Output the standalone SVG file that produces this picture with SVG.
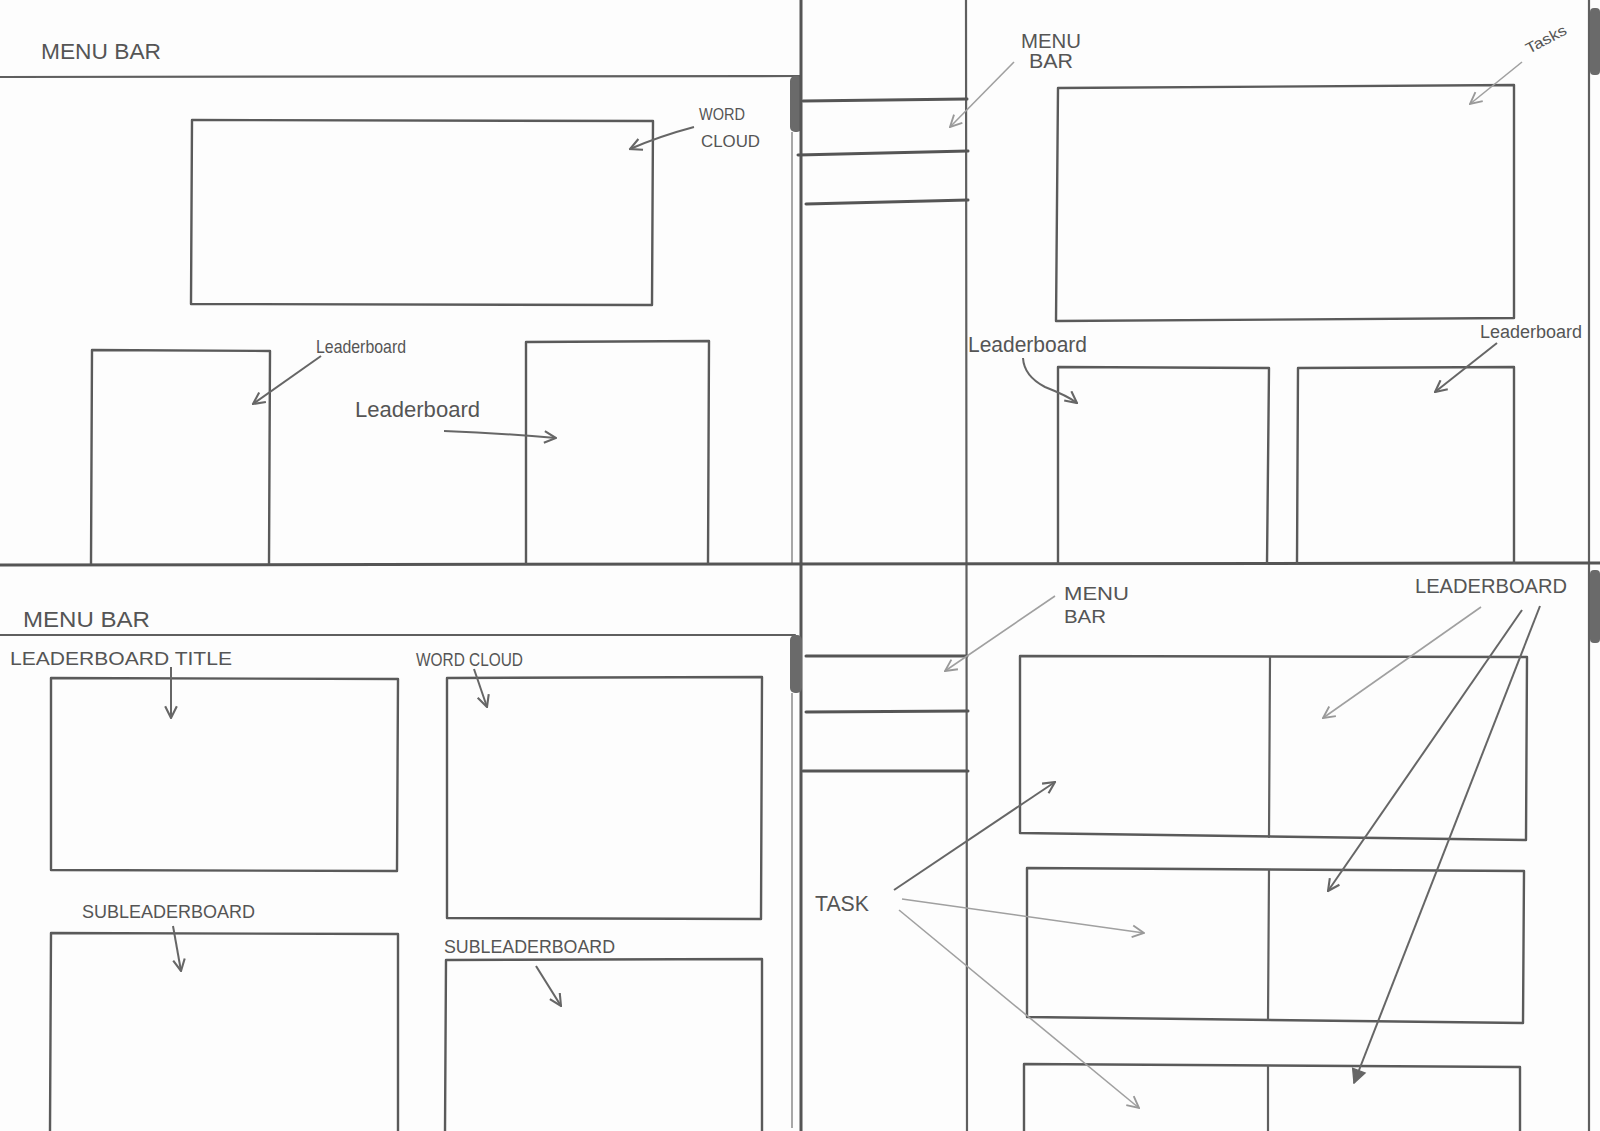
<svg xmlns="http://www.w3.org/2000/svg" width="1600" height="1131" viewBox="0 0 1600 1131">
<defs>
<style>
.ln{stroke:#5f5f5f;stroke-width:2.2;fill:none;stroke-linecap:round}
.thk{stroke:#555;stroke-width:3;fill:none;stroke-linecap:round}
.thin{stroke:#8a8a8a;stroke-width:1.5;fill:none}
.box{stroke:#5a5a5a;stroke-width:2.4;fill:none;stroke-linejoin:round}
.thumb{fill:#6a6a6a}
.t{font-family:"Liberation Sans","DejaVu Sans",sans-serif;fill:#555}
.arr{stroke:#666;stroke-width:2;fill:none;marker-end:url(#ah)}
.arrl{stroke:#a0a0a0;stroke-width:1.6;fill:none;marker-end:url(#ahl)}
.arrf{stroke:#666;stroke-width:2;fill:none;marker-end:url(#ahf)}
</style>
<marker id="ah" viewBox="0 0 12 12" refX="11" refY="6" markerWidth="14" markerHeight="14" markerUnits="userSpaceOnUse" orient="auto">
<path d="M1,1 L11,6 L1,11" fill="none" stroke="#666" stroke-width="1.8"/>
</marker>
<marker id="ahl" viewBox="0 0 12 12" refX="11" refY="6" markerWidth="14" markerHeight="14" markerUnits="userSpaceOnUse" orient="auto">
<path d="M1,1 L11,6 L1,11" fill="none" stroke="#999" stroke-width="1.6"/>
</marker>
<marker id="ahf" viewBox="0 0 12 12" refX="11" refY="6" markerWidth="16" markerHeight="16" markerUnits="userSpaceOnUse" orient="auto">
<path d="M1,1 L11,6 L1,11 Z" fill="#666" stroke="#666" stroke-width="1"/>
</marker>
</defs>
<rect x="0" y="0" width="1600" height="1131" fill="#fdfdfd"/>

<g id="frame">
<line class="ln" x1="0" y1="77" x2="800" y2="76"/>
<line class="thin" x1="792" y1="132" x2="792" y2="563"/>
<rect class="thumb" x="790" y="76" width="12" height="56" rx="5"/>
<line class="thk" x1="801" y1="0" x2="801" y2="1131"/>
<line class="ln" x1="966" y1="0" x2="967" y2="1131"/>
<line class="ln" x1="1589" y1="0" x2="1589" y2="1131"/>
<rect class="thumb" x="1590" y="8" width="10" height="67" rx="4"/>
<rect class="thumb" x="1590" y="570" width="10" height="73" rx="4"/>
<line class="thk" x1="0" y1="565" x2="1600" y2="563"/>
<line class="ln" x1="0" y1="635" x2="795" y2="635"/>
<line class="thin" x1="792" y1="693" x2="792" y2="1128"/>
<rect class="thumb" x="790" y="635" width="12" height="58" rx="5"/>
<line class="thk" x1="803" y1="101" x2="967" y2="99"/>
<line class="thk" x1="798" y1="155" x2="968" y2="151"/>
<line class="thk" x1="806" y1="204" x2="968" y2="200"/>
<line class="thk" x1="806" y1="656" x2="967" y2="656"/>
<line class="thk" x1="806" y1="712" x2="968" y2="711"/>
<line class="thk" x1="803" y1="771" x2="968" y2="771"/>
</g>

<g id="tl-wordcloud"><polygon class="box" points="192,120 653,121 652,305 191,304"/></g>
<g id="tl-leaderboard-left"><polyline class="box" points="91,564 92,350 270,351 269,564"/></g>
<g id="tl-leaderboard-right"><polyline class="box" points="526,564 526,342 709,341 708,564"/></g>

<g id="tr-tasks"><polygon class="box" points="1058,88 1514,85 1514,318 1056,321"/></g>
<g id="tr-leaderboard-left"><polyline class="box" points="1058,564 1058,367 1269,368 1267,564"/></g>
<g id="tr-leaderboard-right"><polyline class="box" points="1297,564 1298,368 1514,367 1514,564"/></g>

<g id="bl-title"><polygon class="box" points="51,678 398,679 397,871 51,870"/></g>
<g id="bl-wordcloud"><polygon class="box" points="447,678 762,677 761,919 447,918"/></g>
<g id="bl-sub-left"><polyline class="box" points="50,1131 51,933 398,934 398,1131"/></g>
<g id="bl-sub-right"><polyline class="box" points="445,1131 446,960 762,959 762,1131"/></g>

<g id="br-row1"><polygon class="box" points="1020,656 1527,657 1526,840 1020,833"/><line class="ln" x1="1270" y1="657" x2="1269" y2="837"/></g>
<g id="br-row2"><polygon class="box" points="1027,868 1524,871 1523,1023 1027,1017"/><line class="ln" x1="1269" y1="870" x2="1268" y2="1020"/></g>
<g id="br-row3"><polyline class="box" points="1024,1131 1024,1064 1520,1067 1520,1131"/><line class="ln" x1="1268" y1="1066" x2="1268" y2="1131"/></g>

<g id="labels">
<text class="t" x="41" y="59" font-size="22" textLength="120" lengthAdjust="spacingAndGlyphs">MENU BAR</text>
<text class="t" x="699" y="120" font-size="17" textLength="46" lengthAdjust="spacingAndGlyphs">WORD</text>
<text class="t" x="701" y="147" font-size="17" textLength="59" lengthAdjust="spacingAndGlyphs">CLOUD</text>
<text class="t" x="316" y="353" font-size="19" textLength="90" lengthAdjust="spacingAndGlyphs">Leaderboard</text>
<text class="t" x="355" y="417" font-size="22" textLength="125" lengthAdjust="spacingAndGlyphs">Leaderboard</text>
<text class="t" x="1021" y="48" font-size="20" textLength="60" lengthAdjust="spacingAndGlyphs">MENU</text>
<text class="t" x="1029" y="68" font-size="20" textLength="44" lengthAdjust="spacingAndGlyphs">BAR</text>
<text class="t" x="1529" y="54" font-size="15" textLength="44" lengthAdjust="spacingAndGlyphs" transform="rotate(-28 1529 54)">Tasks</text>
<text class="t" x="968" y="352" font-size="22" textLength="119" lengthAdjust="spacingAndGlyphs">Leaderboard</text>
<text class="t" x="1480" y="338" font-size="18" textLength="102" lengthAdjust="spacingAndGlyphs">Leaderboard</text>
<text class="t" x="23" y="627" font-size="22" textLength="127" lengthAdjust="spacingAndGlyphs">MENU BAR</text>
<text class="t" x="10" y="665" font-size="19" textLength="222" lengthAdjust="spacingAndGlyphs">LEADERBOARD TITLE</text>
<text class="t" x="416" y="666" font-size="18" textLength="107" lengthAdjust="spacingAndGlyphs">WORD CLOUD</text>
<text class="t" x="82" y="918" font-size="18" textLength="173" lengthAdjust="spacingAndGlyphs">SUBLEADERBOARD</text>
<text class="t" x="444" y="953" font-size="18" textLength="171" lengthAdjust="spacingAndGlyphs">SUBLEADERBOARD</text>
<text class="t" x="1064" y="600" font-size="19" textLength="65" lengthAdjust="spacingAndGlyphs">MENU</text>
<text class="t" x="1064" y="623" font-size="19" textLength="42" lengthAdjust="spacingAndGlyphs">BAR</text>
<text class="t" x="1415" y="593" font-size="20" textLength="152" lengthAdjust="spacingAndGlyphs">LEADERBOARD</text>
<text class="t" x="815" y="911" font-size="22" textLength="54" lengthAdjust="spacingAndGlyphs">TASK</text>
</g>

<g id="connectors">
<path class="arr" d="M694,127 Q660,136 630,149"/>
<path class="arr" d="M321,356 L253,404"/>
<path class="arr" d="M444,431 Q500,433 556,438"/>
<path class="arrl" d="M1014,62 L950,127"/>
<path class="arrl" d="M1522,62 L1470,104"/>
<path class="arr" d="M1023,358 Q1024,376 1045,387 Q1068,396 1077,403"/>
<path class="arr" d="M1497,343 L1435,392"/>
<path class="arr" d="M171,667 L171,718"/>
<path class="arr" d="M474,669 L487,707"/>
<path class="arr" d="M173,926 L181,971"/>
<path class="arr" d="M536,966 L561,1006"/>
<path class="arrl" d="M1055,596 L945,671"/>
<path class="arrl" d="M1481,607 L1323,718"/>
<path class="arr" d="M1522,610 L1328,891"/>
<path class="arrf" d="M1540,606 L1354,1083"/>
<path class="arr" d="M894,890 L1055,782"/>
<path class="arrl" d="M902,899 L1144,933"/>
<path class="arrl" d="M899,910 L1139,1108"/>
</g>
</svg>
